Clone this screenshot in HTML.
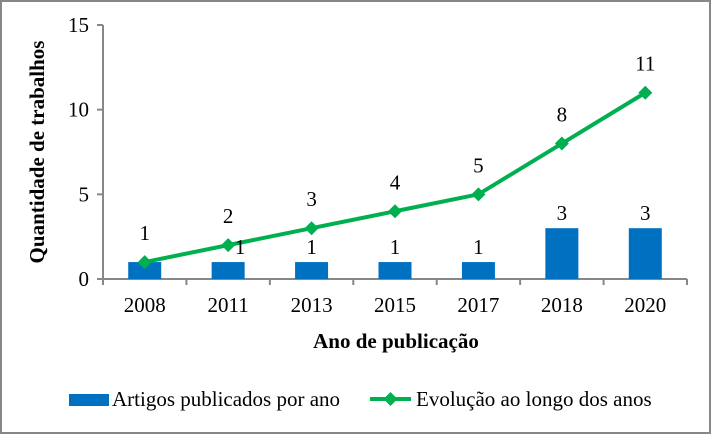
<!DOCTYPE html>
<html><head><meta charset="utf-8"><style>
body{margin:0;background:#fff}
svg{display:block;font-family:"Liberation Serif",serif}
</style></head><body>
<svg width="711" height="434" viewBox="0 0 711 434">
<rect x="1" y="1" width="709" height="432" fill="#fff" stroke="#878787" stroke-width="2"/>
<g id="grid"></g>
<g id="bars"></g>
<g id="line"></g>
<g id="labels"></g>
<text x="44" y="152" transform="rotate(-90 44 152)" text-anchor="middle" font-size="21" font-weight="bold">Quantidade de trabalhos</text>
<text x="396" y="348" text-anchor="middle" font-size="21" font-weight="bold">Ano de publicação</text>
<g>
<rect x="69" y="394" width="40" height="12" fill="#0070c0"/>
<text x="112" y="406" font-size="21">Artigos publicados por ano</text>
<line x1="370" y1="399" x2="411" y2="399" stroke="#00b050" stroke-width="4"/>
<path d="M390.5 392 L397.5 399 L390.5 406 L383.5 399 Z" fill="#00b050"/>
<text x="416" y="406" font-size="21">Evolução ao longo dos anos</text>
</g>
</svg>
<script>
const categories=["2008","2011","2013","2015","2017","2018","2020"];
const barValues=[1,1,1,1,1,3,3];
const lineValues=[1,2,3,4,5,8,11];
const yTicks=[0,5,10,15];
const NS="http://www.w3.org/2000/svg";
const L=103,R=687,T=25,B=279,yMax=15;
const bw=(R-L)/categories.length;
const x=i=>L+bw*(i+0.5);
const y=v=>B-(B-T)*v/yMax;
function mk(tag,attrs,parent,txt){const e=document.createElementNS(NS,tag);for(const k in attrs)e.setAttribute(k,attrs[k]);if(txt!==undefined)e.textContent=txt;document.getElementById(parent).appendChild(e);return e;}
let e=mk("line",{x1:L,y1:T,x2:L,y2:B,stroke:"#878787","stroke-width":2},"grid");


e=mk("line",{x1:L-6,y1:B,x2:R,y2:B,stroke:"#878787","stroke-width":2},"grid");


yTicks.forEach(t=>{
 const tk=mk("line",{x1:L-6,y1:y(t),x2:L,y2:y(t),stroke:"#878787","stroke-width":2},"grid");
 
 
 const lb=mk("text",{x:L-14,y:y(t)+7,"text-anchor":"end","font-size":21},"grid",String(t));
 
 
});
for(let i=0;i<=categories.length;i++){
 const tk=mk("line",{x1:L+bw*i,y1:B,x2:L+bw*i,y2:B+6,stroke:"#878787","stroke-width":2},"grid");
 
 
}
categories.forEach((c,i)=>{
 const lb=mk("text",{x:x(i),y:B+33,"text-anchor":"middle","font-size":21},"grid",c);
 
 
 const b=mk("rect",{x:x(i)-16.5,y:y(barValues[i]),width:33,height:B-y(barValues[i]),fill:"#0070c0"},"bars");
 
 
 const by=y(barValues[i])-8, ly=y(lineValues[i])-22;
 if(barValues[i]!==lineValues[i]){
  const bl=mk("text",{x:x(i)+(i===1?12:0),y:by,"text-anchor":"middle","font-size":21},"labels",String(barValues[i]));
  
  
 }
 const ll=mk("text",{x:x(i),y:ly,"text-anchor":"middle","font-size":21},"labels",String(lineValues[i]));
 
 
});
const pl=mk("polyline",{points:lineValues.map((v,i)=>x(i)+","+y(v)).join(" "),fill:"none",stroke:"#00b050","stroke-width":4,"stroke-linejoin":"round"},"line");


lineValues.forEach((v,i)=>{
 const cx=x(i),cy=y(v);
 const m=mk("path",{d:`M${cx} ${cy-7} L${cx+7} ${cy} L${cx} ${cy+7} L${cx-7} ${cy} Z`,fill:"#00b050"},"line");
 
 
});
</script>
</body></html>
